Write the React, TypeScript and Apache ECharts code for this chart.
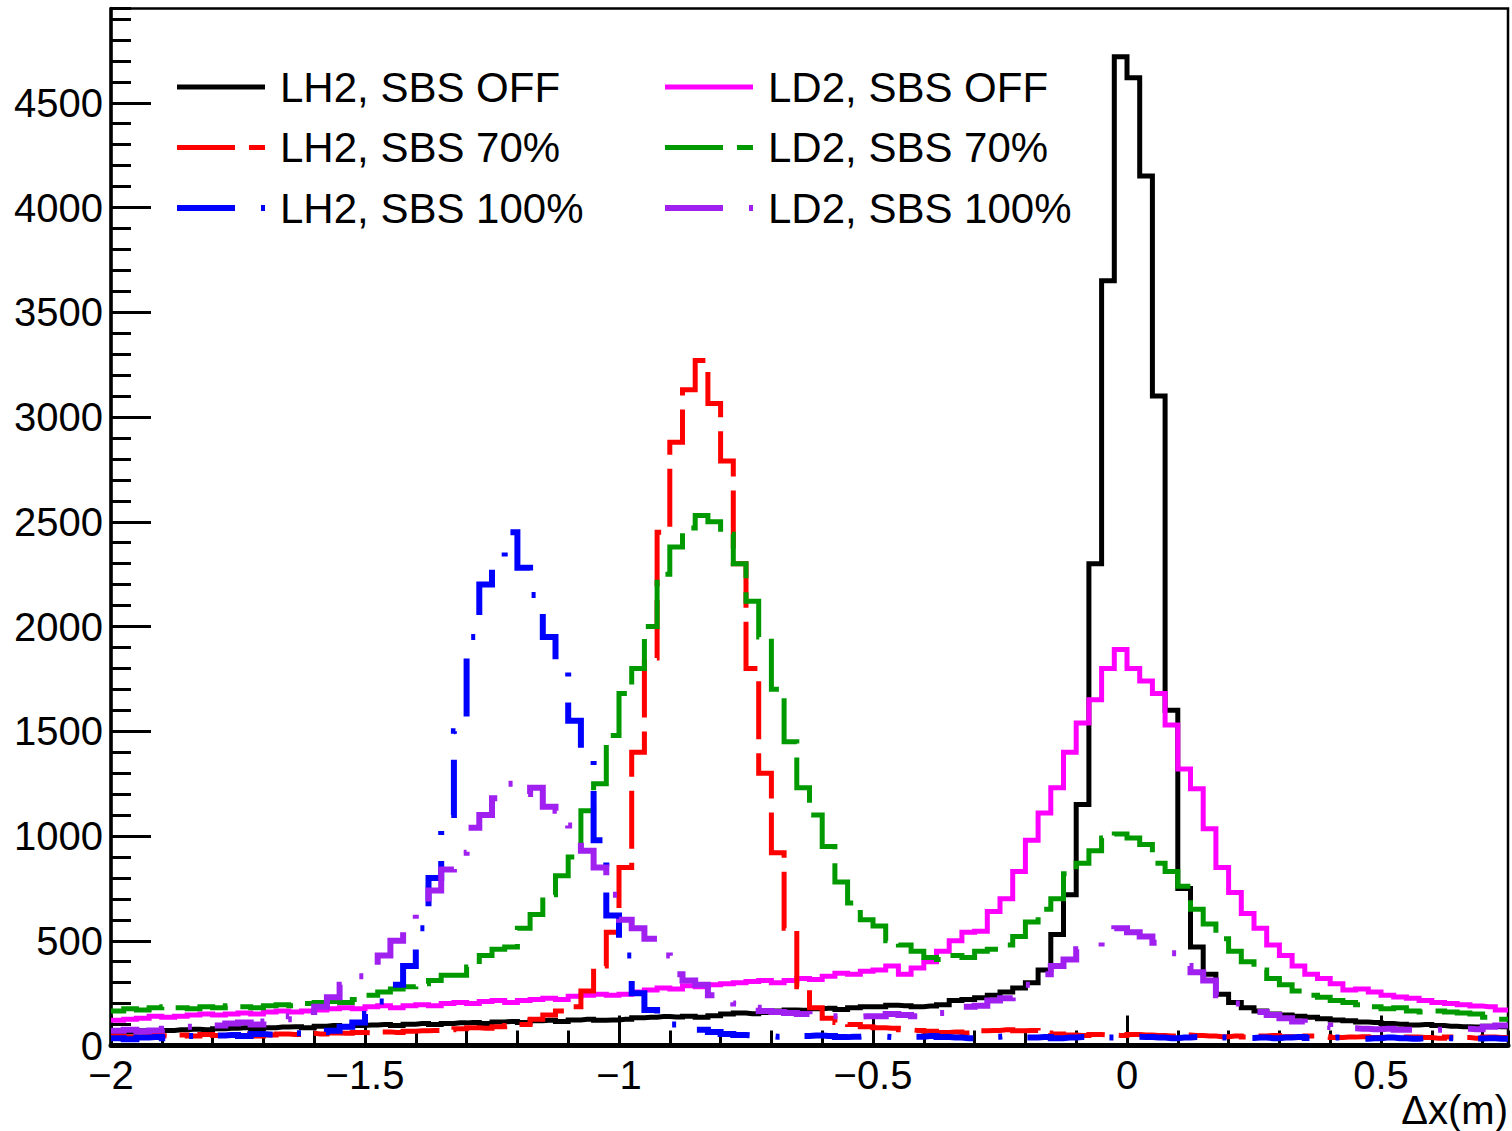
import React, { useEffect, useRef } from "react";
import * as echarts from "echarts";

// Histogram binning (bin low edges start at X_MIN)
const X_MIN = -2;
const X_MAX = 0.75;
const BIN_WIDTH = 0.025;

const Y_MAX = 4950;

const xMajorTicks = [-2, -1.5, -1, -0.5, 0, 0.5];

const seriesNames = [
  "LH2, SBS OFF",
  "LD2, SBS OFF",
  "LH2, SBS 70%",
  "LD2, SBS 70%",
  "LH2, SBS 100%",
  "LD2, SBS 100%",
];

// LH2, SBS OFF (black, solid)
const lh2Off = [
  60, 65, 70, 68, 72, 75, 78, 75, 80, 82, 85, 80, 85, 88, 90, 85, 92, 95, 90, 95,
  98, 100, 95, 102, 105, 100, 105, 108, 110, 105, 112, 115, 110, 118, 120, 115, 122, 125, 120, 122,
  125, 132, 135, 138, 136, 140, 135, 142, 150, 155, 152, 158, 165, 170, 168, 175, 178, 172, 180, 185,
  185, 192, 190, 185, 188, 195, 215, 220, 228, 240,
  255, 275, 300, 360, 530, 720, 1150, 2300, 3650, 4720,
  4620, 4150, 3100, 1600, 750, 470, 340, 245, 205, 180,
  165, 150, 145, 140, 135, 128, 122, 118, 112, 110,
  105, 102, 98, 100, 95, 92, 90, 88, 92, 90,
];

// LD2, SBS OFF (magenta, solid)
const ld2Off = [
  120, 125, 130, 140, 135, 140, 145, 150, 145, 150, 155, 150, 160, 165, 160, 165, 170, 175, 180, 175,
  185, 190, 180, 190, 195, 190, 200, 205, 200, 210, 215, 205, 215, 220, 225, 220, 235, 240, 245, 240,
  245, 255, 265, 275, 270, 285, 280, 290, 295, 300, 305, 310, 300, 310, 320, 315, 330, 345, 340, 355,
  360, 380, 340, 370, 400, 450, 500, 540, 545, 640,
  700, 830, 980, 1110, 1230, 1400, 1540, 1650, 1800, 1890,
  1800, 1740, 1680, 1530, 1320, 1225, 1035, 850, 730, 630,
  560, 480, 430, 380, 340, 320, 295, 265, 270, 255,
  240, 232, 225, 215, 205, 200, 195, 188, 185, 170,
];

// LH2, SBS 70% (red, dashed)
const lh2Sbs70 = [
  45, 40, 42, 48, 45, 50, 45, 52, 48, 50, 55, 45, 50, 55, 52, 58, 55, 60, 58, 62,
  60, 65, 62, 68, 70, 72, 75, 80, 85, 82, 90, 95, 100, 125, 145, 165, 185, 260, 380, 540,
  850, 1400, 1850, 2450, 2880, 3130, 3270, 3065, 2790, 2300, 1800, 1300, 920, 560, 280, 180, 130, 110, 100, 90,
  85, 82, 75, 72, 68, 62, 65, 60, 70, 72,
  75, 70, 72, 60, 55, 50, 48, 52, 50, 48,
  52, 50, 48, 45, 50, 48, 45, 42, 45, 40,
  45, 48, 42, 40, 45, 42, 38, 40, 42, 38,
  40, 35, 40, 38, 35, 40, 38, 35, 40, 38,
];

// LD2, SBS 70% (green, dashed)
const ld2Sbs70 = [
  165, 175, 170, 180, 185, 180, 175, 185, 180, 190, 185, 180, 190, 195, 190, 200, 205, 210, 205, 220,
  240, 255, 270, 280, 295, 310, 335, 335, 375, 430, 460, 470, 560, 625, 720, 810, 900, 1120, 1250, 1480,
  1680, 1800, 2000, 2250, 2380, 2470, 2530, 2500, 2440, 2300, 2120, 1950, 1700, 1450, 1230, 1100, 950, 780, 680, 600,
  570, 500, 480, 450, 420, 410, 430, 420, 450, 460,
  480, 520, 590, 650, 700, 820, 870, 930, 990, 1010,
  990, 960, 870, 830, 760, 650, 580, 510, 450, 400,
  360, 320, 290, 260, 240, 230, 215, 205, 195, 185,
  175, 180, 165, 160, 165, 160, 155, 150, 135, 125,
];

// LH2, SBS 100% (blue, dash-dot)
const lh2Sbs100 = [
  35, 30, 38, 40, 35, 40, 45, 42, 48, 50, 45, 55, 52, 50, 58, 62, 65, 70, 90, 110,
  150, 210, 290, 380, 560, 800, 1100, 1500, 1950, 2200, 2300, 2450, 2280, 2150, 1950, 1820, 1550, 1370, 980, 620,
  430, 250, 170, 115, 100, 85, 75, 65, 55, 50, 48, 45, 42, 40, 45, 48, 45, 40, 42, 45,
  42, 40, 38, 42, 45, 40, 38, 35, 40, 42,
  45, 42, 38, 40, 35, 38, 40, 42, 38, 40,
  42, 40, 38, 35, 38, 40, 42, 38, 35, 36,
  38, 35, 38, 40, 36, 35, 38, 35, 32, 35,
  38, 35, 32, 35, 38, 35, 30, 33, 35, 32,
];

// LD2, SBS 100% (purple, dash-dot)
const ld2Sbs100 = [
  70, 75, 68, 72, 80, 85, 90, 100, 95, 105, 110, 100, 115, 125, 140, 160, 185, 230, 290, 330,
  370, 430, 500, 580, 640, 740, 840, 920, 1040, 1100, 1180, 1250, 1200, 1230, 1140, 1120, 1050, 930, 850, 720,
  600, 560, 510, 430, 340, 310, 290, 240, 215, 200, 180, 165, 160, 155, 150, 145, 140, 140, 138, 140,
  140, 150, 145, 140, 150, 155, 170, 185, 190, 215,
  225, 250, 290, 340, 380, 410, 460, 470, 540, 560,
  540, 520, 490, 440, 380, 350, 310, 240, 200, 180,
  160, 145, 130, 115, 105, 95, 88, 82, 80, 78,
  80, 75, 75, 72, 75, 78, 80, 78, 90, 95,
];

const FONT = "Liberation Sans";

function histPoints(values: number[]): [number, number][] {
  const pts: [number, number][] = [[X_MIN, values[0]]];
  values.forEach((v, i) => {
    pts.push([X_MIN + (i + 0.5) * BIN_WIDTH, v]);
  });
  pts.push([X_MAX, values[values.length - 1]]);
  return pts;
}

function fmtX(v: number): string {
  const r = Math.round(v * 10) / 10;
  if (!xMajorTicks.some((t) => Math.abs(t - r) < 1e-6)) return "";
  return r < 0 ? "\u2212" + String(Math.abs(r)) : String(r);
}

function histSeries(
  name: string,
  values: number[],
  color: string,
  width: number,
  dash: "solid" | number[]
) {
  return {
    name,
    type: "line",
    step: "middle",
    data: histPoints(values),
    symbol: "none",
    showSymbol: false,
    xAxisIndex: 0,
    yAxisIndex: 0,
    silent: true,
    itemStyle: { color },
    lineStyle: { color, width, type: dash, cap: "butt", join: "miter" },
  };
}

const DASH = [58, 14];
const DASHDOT = [58, 26, 4, 26];

export default function App() {
  const ref = useRef<HTMLDivElement>(null);

  useEffect(() => {
    if (!ref.current) return;
    const chart = echarts.init(ref.current, undefined, { renderer: "svg" });

    const legendCommon = {
      orient: "vertical",
      top: 65,
      itemWidth: 88,
      itemHeight: 20,
      itemGap: 16.5,
      padding: 0,
      selectedMode: false,
      lineStyle: { width: "inherit" },
      itemStyle: {
        color: "rgba(0,0,0,0)",
        borderColor: "rgba(0,0,0,0)",
        borderWidth: 0,
        opacity: 0,
      },
      textStyle: {
        fontSize: 42,
        fontFamily: FONT,
        color: "#000",
        lineHeight: 44,
        padding: [0, 0, 0, 10],
      },
    };

    chart.setOption({
      animation: false,
      backgroundColor: "#fff",
      textStyle: { fontFamily: FONT },
      grid: {
        left: 111,
        top: 8.5,
        width: 1397,
        height: 1037,
        show: true,
        borderColor: "#000",
        borderWidth: 2.5,
        backgroundColor: "transparent",
        containLabel: false,
        outerBoundsMode: "none",
      },
      legend: [
        {
          ...legendCommon,
          left: 174,
          data: [seriesNames[0], seriesNames[2], seriesNames[4]],
        },
        {
          ...legendCommon,
          left: 662,
          data: [seriesNames[1], seriesNames[3], seriesNames[5]],
        },
      ],
      xAxis: [
        {
          type: "value",
          position: "bottom",
          min: X_MIN,
          max: X_MAX,
          interval: 0.5,
          axisLine: { show: true, onZero: false, lineStyle: { color: "#000", width: 5 } },
          axisTick: { show: true, inside: true, length: 30, lineStyle: { color: "#000", width: 3 } },
          minorTick: { show: false },
          splitLine: { show: false },
          axisLabel: {
            show: true,
            margin: 15,
            fontSize: 40,
            lineHeight: 28,
            fontFamily: FONT,
            color: "#000",
            showMaxLabel: false,
            formatter: (v: number) => fmtX(v),
          },
          name: "\u0394x(m)",
          nameLocation: "end",
          nameGap: 0,
          nameMoveOverlap: false,
          nameTextStyle: {
            fontSize: 40,
            fontFamily: FONT,
            color: "#000",
            align: "right",
            verticalAlign: "top",
            padding: [44, 0, 0, 0],
          },
        },
        {
          type: "value",
          position: "bottom",
          min: X_MIN,
          max: X_MAX,
          interval: 0.1,
          axisLine: { show: false, onZero: false },
          axisTick: { show: true, inside: true, length: 15, lineStyle: { color: "#000", width: 3 } },
          axisLabel: { show: false },
          splitLine: { show: false },
        },
      ],
      yAxis: [
        {
          type: "value",
          position: "left",
          min: 0,
          max: Y_MAX,
          interval: 500,
          axisLine: { show: true, onZero: false, lineStyle: { color: "#000", width: 3.5 } },
          axisTick: { show: true, inside: true, length: 40, lineStyle: { color: "#000", width: 3 } },
          splitLine: { show: false },
          axisLabel: {
            show: true,
            margin: 8,
            fontSize: 40,
            lineHeight: 28,
            fontFamily: FONT,
            color: "#000",
            showMaxLabel: false,
            formatter: (v: number) => String(Math.round(v)),
          },
        },
        {
          type: "value",
          position: "left",
          min: 0,
          max: Y_MAX,
          interval: 100,
          axisLine: { show: false, onZero: false },
          axisTick: { show: true, inside: true, length: 20, lineStyle: { color: "#000", width: 3 } },
          axisLabel: { show: false },
          splitLine: { show: false },
        },
      ],
      series: [
        histSeries(seriesNames[0], lh2Off, "#000000", 5, "solid"),
        histSeries(seriesNames[1], ld2Off, "#ff00ff", 5, "solid"),
        histSeries(seriesNames[2], lh2Sbs70, "#ff0000", 5, DASH),
        histSeries(seriesNames[3], ld2Sbs70, "#009900", 5, DASH),
        histSeries(seriesNames[4], lh2Sbs100, "#0000ff", 6, DASHDOT),
        histSeries(seriesNames[5], ld2Sbs100, "#a020f0", 6, DASHDOT),
      ],
    });

    return () => chart.dispose();
  }, []);

  return (
    <div
      ref={ref}
      style={{ position: "absolute", left: 0, top: 0, width: 1512, height: 1131 }}
    />
  );
}
